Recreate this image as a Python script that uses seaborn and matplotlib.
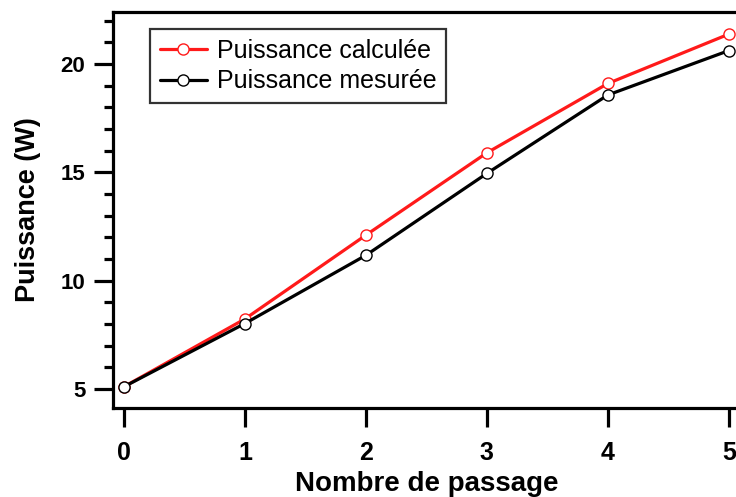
import matplotlib
matplotlib.use("Agg")
import matplotlib.pyplot as plt
import seaborn as sns
import pandas as pd
from matplotlib.ticker import MultipleLocator
from matplotlib.lines import Line2D

passages = [0, 1, 2, 3, 4, 5]
calculee = [5.1, 8.23, 12.1, 15.9, 19.1, 21.38]
mesuree = [5.1, 8.02, 11.17, 14.95, 18.57, 20.62]
series_names = ["Puissance calculée", "Puissance mesurée"]
colors = ["#ff1a1a", "#000000"]

df = pd.DataFrame({
    "x": passages * 2,
    "y": calculee + mesuree,
    "serie": [series_names[0]] * len(passages) + [series_names[1]] * len(passages),
})

sns.set_style("white")
plt.rcParams['font.family'] = ['Liberation Sans', 'DejaVu Sans']
plt.rcParams['text.color'] = 'black'
plt.rcParams['axes.labelcolor'] = 'black'
plt.rcParams['xtick.color'] = 'black'
plt.rcParams['ytick.color'] = 'black'

fig = plt.figure(figsize=(7.36, 4.97), dpi=100)
ax = fig.add_axes([113 / 736, 1 - 408 / 497, (741 - 113) / 736, (408 - 12) / 497])

sns.lineplot(data=df, x="x", y="y", hue="serie", palette=colors, ax=ax,
             marker="o", markersize=8, markerfacecolor="white",
             markeredgewidth=1.0, linewidth=2.3, legend=False)
for line, c in zip(ax.lines, colors):
    line.set_markeredgecolor(c)

ax.set_xlim(-0.09, 5.1)
ax.set_ylim(4.12, 22.4)
ax.set_xticks(passages)
ax.yaxis.set_major_locator(MultipleLocator(5))
ax.yaxis.set_minor_locator(MultipleLocator(1))

for s in ax.spines.values():
    s.set_linewidth(2.3)
    s.set_color("black")

ax.tick_params(axis="both", which="major", direction="out", length=14, width=2.3,
               colors="black")
ax.tick_params(axis="y", which="minor", direction="out", length=6.5, width=2.3,
               left=True, colors="black")
ax.tick_params(axis="x", bottom=True, pad=10)
ax.tick_params(axis="y", left=True, pad=6)
for lab in ax.get_xticklabels():
    lab.set_fontweight("bold")
    lab.set_fontsize(18)
for lab in ax.get_yticklabels():
    lab.set_fontweight("bold")
    lab.set_fontsize(16)

ax.set_xlabel("Nombre de passage", fontsize=20, fontweight="bold", labelpad=4,
              color="black")
ax.set_ylabel("Puissance (W)", fontsize=19.5, fontweight="bold", labelpad=14,
              color="black")

handles = [Line2D([], [], color=c, lw=2.3, marker="o", markersize=8,
                  markerfacecolor="white", markeredgecolor=c, markeredgewidth=1.0)
           for c in colors]
leg = ax.legend(handles, series_names, loc="upper left",
                bbox_to_anchor=((150 - 113) / 628, 1 - (29 - 12) / 396),
                fontsize=18, frameon=True, fancybox=False, borderpad=0.38,
                handlelength=1.9, handletextpad=0.4, labelspacing=0.28,
                borderaxespad=0)
leg.get_frame().set_edgecolor("black")
leg.get_frame().set_linewidth(1.6)
for t in leg.get_texts():
    t.set_color("black")

fig.savefig("out.png", dpi=100)
